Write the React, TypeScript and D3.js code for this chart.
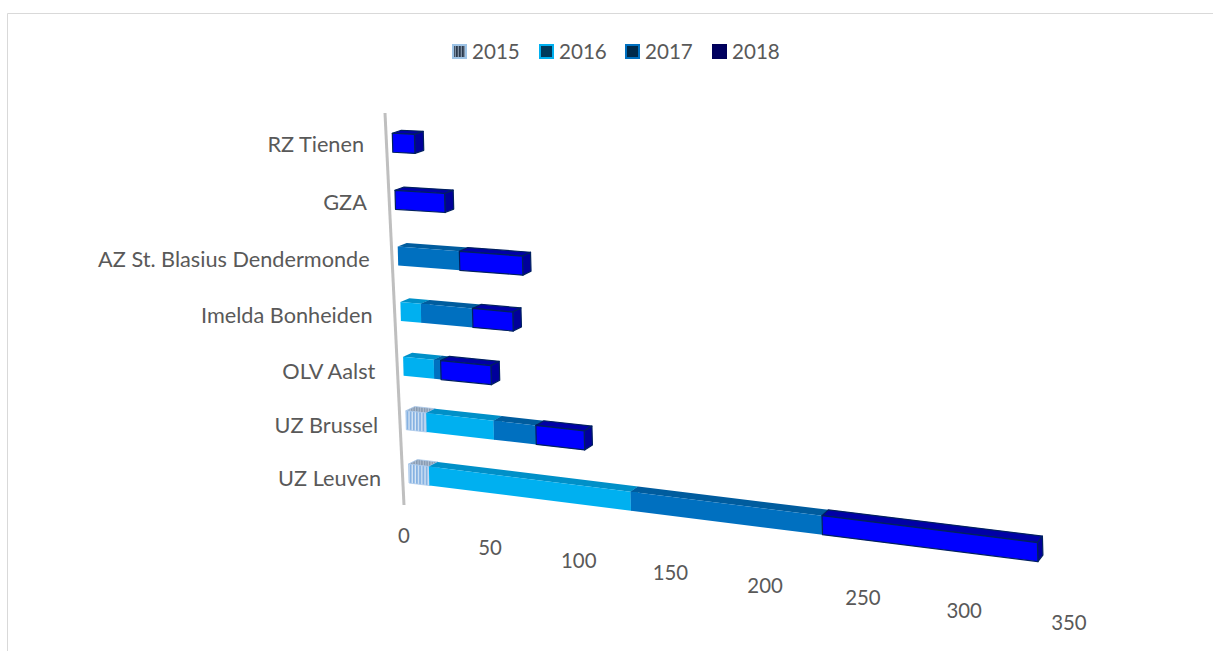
import React from "react";
import * as d3 from "d3";

const categories = ["UZ Leuven", "UZ Brussel", "OLV Aalst", "Imelda Bonheiden", "AZ St. Blasius Dendermonde", "GZA", "RZ Tienen"];
const years = ["2015", "2016", "2017", "2018"];
const v2015 = [12, 12, 0, 0, 0, 0, 0];
const v2016 = [114, 39, 18, 12, 0, 0, 0];
const v2017 = [101, 24, 4, 30, 36, 0, 0];
const v2018 = [106, 27, 29, 23, 36, 29, 13];
const series = [v2015, v2016, v2017, v2018];
const ticks = [0, 50, 100, 150, 200, 250, 300, 350];

const faces = [
  { front: "url(#s15)", top: "url(#s15t)", side: "#7FA8D8", stroke: "#A9C8EA", sw: 0.8 },
  { front: "#00B0F0", top: "#0090C8", side: "#0090C8", stroke: "none", sw: 0 },
  { front: "#0070C0", top: "#005C9E", side: "#005C9E", stroke: "none", sw: 0 },
  { front: "#0000FF", top: "#0000A6", side: "#00009A", stroke: "#002060", sw: 1.2 },
];

const catScale = d3.scalePoint<string>().domain(categories).range([0, 6]);
const valueT = d3.scaleLinear().domain([0, 333]).range([0, 1]);
const valuePx = (v: number) => (1.693 * v) / (1 - 0.000311 * v);
const catPx = (c: number) => (52.9 * c) / (1 - 0.00672 * c);
const labelPx = (c: number) => (52.8 * c) / (1 - 0.0088 * c);

type P = [number, number];
// depth: 0 front, 1 back; up: 0 bottom, 1 top
function project(v: number, c: number, depth: number, up: number): P {
  const dx = valuePx(v);
  const slope = 0.125 - 0.012 * c;
  const t = valueT(v);
  const x = 409 - 2.7 * c + dx - 0.5 * up + depth * (9 - 4 * t);
  const y = 483 - catPx(c) + dx * slope - 19 * up - depth * (3 + ((6 - c) / 6) * 1.5 + 2 * t);
  return [x, y];
}
const poly = d3.line().curve(d3.curveLinearClosed);

const FONT = "Lato, 'Open Sans', sans-serif";
const TXT = "#595959";

export default function App() {
  const legendX = [452, 539, 625, 712];
  const legendFill = ["url(#s15l)", "#003A5C", "#002A4A", "#000060"];
  const legendBorder = ["#9DC3E6", "#00B0F0", "#0070C0", "#00005A"];
  return (
    <svg width={1213} height={651} style={{ position: "absolute", left: 0, top: 0, background: "#fff" }} fontFamily={FONT}>
      <defs>
        <pattern id="s15" patternUnits="userSpaceOnUse" width={3.2} height={10}>
          <rect width={3.2} height={10} fill="#DCE9F6" />
          <rect width={2} height={10} fill="#86B2E2" />
        </pattern>
        <pattern id="s15t" patternUnits="userSpaceOnUse" width={2.6} height={10}>
          <rect width={2.6} height={10} fill="#B4C1D1" />
          <rect width={1.5} height={10} fill="#8499B2" />
        </pattern>
        <pattern id="s15l" patternUnits="userSpaceOnUse" width={3} height={10}>
          <rect width={3} height={10} fill="#7F8FA3" />
          <rect width={1.7} height={10} fill="#2A3A4E" />
        </pattern>
      </defs>

      <path d="M1213 13.5H7.5V651" fill="none" stroke="#D9D9D9" strokeWidth={1} />

      {years.map((y, i) => (
        <g key={y}>
          <rect x={legendX[i] + 1} y={45} width={13} height={13} fill={legendFill[i]} stroke={legendBorder[i]} strokeWidth={2} />
          <text x={legendX[i] + 20} y={51} dominantBaseline="central" fontSize={20.6} fill={TXT}>{y}</text>
        </g>
      ))}

      <line x1={385} y1={113} x2={404} y2={505} stroke="#BFBFBF" strokeWidth={3} />

      {categories.map((name) => {
        const c = catScale(name) as number;
        return (
          <text key={name} x={381 - 2.83 * c} y={478 - labelPx(c)} textAnchor="end" dominantBaseline="central" fontSize={21.7} fill={TXT}>{name}</text>
        );
      })}

      {ticks.map((t) => (
        <text key={t} x={404 + valuePx(t)} y={534.5 + 0.2514 * t} textAnchor="middle" dominantBaseline="central" fontSize={20.4} fill={TXT}>{t}</text>
      ))}

      {[...categories].reverse().map((name) => {
        const c = catScale(name) as number;
        const idx = categories.indexOf(name);
        let acc = 0;
        return (
          <g key={name}>
            {series.map((s, si) => {
              const val = s[idx];
              if (!val) return null;
              const a = acc;
              const b = acc + val;
              acc = b;
              const f = faces[si];
              const top: P[] = [project(a, c, 0, 1), project(b, c, 0, 1), project(b, c, 1, 1), project(a, c, 1, 1)];
              const side: P[] = [project(b, c, 0, 0), project(b, c, 0, 1), project(b, c, 1, 1), project(b, c, 1, 0)];
              const front: P[] = [project(a, c, 0, 0), project(b, c, 0, 0), project(b, c, 0, 1), project(a, c, 0, 1)];
              return (
                <g key={si} stroke={f.stroke} strokeWidth={f.sw} strokeLinejoin="round">
                  <path d={poly(top) as string} fill={f.top} />
                  <path d={poly(side) as string} fill={f.side} />
                  <path d={poly(front) as string} fill={f.front} />
                </g>
              );
            })}
          </g>
        );
      })}
    </svg>
  );
}
